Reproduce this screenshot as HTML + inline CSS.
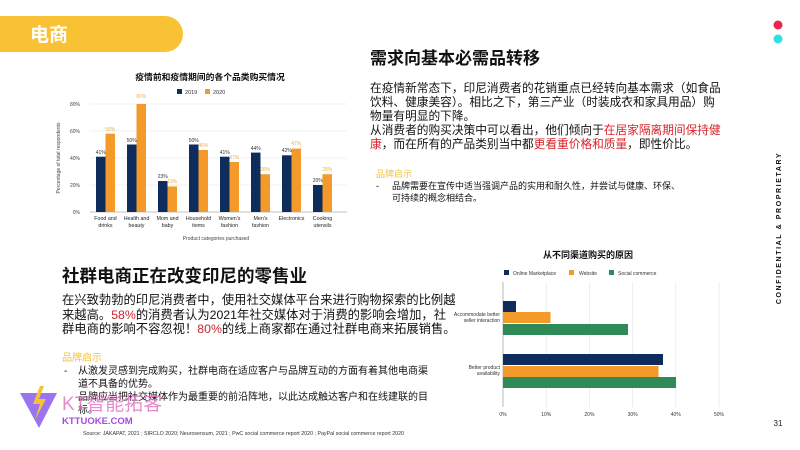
<!DOCTYPE html>
<html><head><meta charset="utf-8"><style>
html,body{margin:0;padding:0;background:#fff;}
svg{display:block;font-family:"Liberation Sans","Noto Sans CJK SC",sans-serif;}
</style></head><body>
<svg width="800" height="450" viewBox="0 0 800 450" xmlns="http://www.w3.org/2000/svg">
<!-- header -->
<path d="M0 16 H165 A18 18 0 0 1 165 52 H0 Z" fill="#f8c234"/>
<text x="30" y="41" font-size="19" font-weight="bold" fill="#fff">电商</text>
<!-- right side -->
<circle cx="778" cy="25" r="4.5" fill="#e8264f"/>
<circle cx="778" cy="39" r="4.5" fill="#2fe0e3"/>
<text transform="translate(781,228) rotate(-90)" text-anchor="middle" font-size="7" font-weight="bold" letter-spacing="1.6" fill="#111">CONFIDENTIAL &amp; PROPRIETARY</text>
<text x="778" y="426" text-anchor="middle" font-size="8" fill="#222">31</text>

<!-- left chart -->
<text x="210" y="80" text-anchor="middle" font-size="8.8" font-weight="bold" fill="#111">疫情前和疫情期间的各个品类购买情况</text>
<rect x="177" y="89" width="5" height="5" fill="#0f2d5c"/><text x="185" y="94" font-size="5.5" fill="#333">2019</text>
<rect x="205" y="89" width="5" height="5" fill="#f39a2b"/><text x="213" y="94" font-size="5.5" fill="#333">2020</text>
<g stroke="#e6e6e6" stroke-width="0.6">
<line x1="90" y1="104" x2="347" y2="104"/><line x1="90" y1="131" x2="347" y2="131"/><line x1="90" y1="158" x2="347" y2="158"/><line x1="90" y1="185" x2="347" y2="185"/>
</g>
<line x1="90" y1="212" x2="347" y2="212" stroke="#888" stroke-width="0.6"/>
<g font-size="5" fill="#444" text-anchor="end">
<text x="80" y="106">80%</text><text x="80" y="133">60%</text><text x="80" y="160">40%</text><text x="80" y="187">20%</text><text x="80" y="214">0%</text>
</g>
<text transform="translate(60,158) rotate(-90)" text-anchor="middle" font-size="5" fill="#444">Percentage of total respondents</text>
<g>
<rect x="96" y="156.7" width="9.5" height="55.3" fill="#0f2d5c"/><rect x="105.5" y="133.7" width="9.5" height="78.3" fill="#f39a2b"/>
<rect x="127" y="144.5" width="9.5" height="67.5" fill="#0f2d5c"/><rect x="136.5" y="104" width="9.5" height="108" fill="#f39a2b"/>
<rect x="158" y="181" width="9.5" height="31" fill="#0f2d5c"/><rect x="167.5" y="186.4" width="9.5" height="25.6" fill="#f39a2b"/>
<rect x="189" y="144.5" width="9.5" height="67.5" fill="#0f2d5c"/><rect x="198.5" y="150" width="9.5" height="62" fill="#f39a2b"/>
<rect x="220" y="156.7" width="9.5" height="55.3" fill="#0f2d5c"/><rect x="229.5" y="162" width="9.5" height="50" fill="#f39a2b"/>
<rect x="251" y="152.6" width="9.5" height="59.4" fill="#0f2d5c"/><rect x="260.5" y="174.2" width="9.5" height="37.8" fill="#f39a2b"/>
<rect x="282" y="155.3" width="9.5" height="56.7" fill="#0f2d5c"/><rect x="291.5" y="148.6" width="9.5" height="63.4" fill="#f39a2b"/>
<rect x="313" y="185" width="9.5" height="27" fill="#0f2d5c"/><rect x="322.5" y="174.2" width="9.5" height="37.8" fill="#f39a2b"/>
</g>
<g font-size="5" text-anchor="middle">
<g fill="#333">
<text x="100.7" y="154">41%</text><text x="131.7" y="142">50%</text><text x="162.7" y="178">23%</text><text x="193.7" y="142">50%</text><text x="224.7" y="154">41%</text><text x="255.7" y="150">44%</text><text x="286.7" y="152">42%</text><text x="317.7" y="182">20%</text>
</g>
<g fill="#f0b04e">
<text x="110.2" y="131">58%</text><text x="141.2" y="98">80%</text><text x="172.2" y="183">19%</text><text x="203.2" y="147">46%</text><text x="234.2" y="159">37%</text><text x="265.2" y="171">28%</text><text x="296.2" y="145">47%</text><text x="327.2" y="171">28%</text>
</g>
<g fill="#222" font-size="5.3">
<text x="105.5" y="220">Food and</text><text x="105.5" y="227">drinks</text>
<text x="136.5" y="220">Health and</text><text x="136.5" y="227">beauty</text>
<text x="167.5" y="220">Mom and</text><text x="167.5" y="227">baby</text>
<text x="198.5" y="220">Household</text><text x="198.5" y="227">items</text>
<text x="229.5" y="220">Women's</text><text x="229.5" y="227">fashion</text>
<text x="260.5" y="220">Men's</text><text x="260.5" y="227">fashion</text>
<text x="291.5" y="220">Electronics</text>
<text x="322.5" y="220">Cooking</text><text x="322.5" y="227">utensils</text>
</g>
<text x="216" y="240" fill="#444">Product categories purchased</text>
</g>

<!-- right text -->
<text x="370" y="64" font-size="17" font-weight="bold" fill="#111">需求向基本必需品转移</text>
<g font-size="11.7" fill="#111">
<text x="370" y="92">在疫情新常态下，印尼消费者的花销重点已经转向基本需求（如食品</text>
<text x="370" y="106">饮料、健康美容）。相比之下，第三产业（时装成衣和家具用品）购</text>
<text x="370" y="120">物量有明显的下降。</text>
<text x="370" y="134">从消费者的购买决策中可以看出，他们倾向于<tspan fill="#d8232a">在居家隔离期间保持健</tspan></text>
<text x="370" y="148"><tspan fill="#d8232a">康</tspan>，而在所有的产品类别当中都<tspan fill="#d8232a">更看重价格和质量</tspan>，即性价比。</text>
</g>
<text x="376" y="177" font-size="9" fill="#f3c33a">品牌启示</text>
<g font-size="9" fill="#111">
<text x="376" y="189">-</text>
<text x="392" y="189">品牌需要在宣传中适当强调产品的实用和耐久性，并尝试与健康、环保、</text>
<text x="392" y="201">可持续的概念相结合。</text>
</g>

<!-- left bottom text -->
<text x="62" y="282" font-size="17.5" font-weight="bold" fill="#111">社群电商正在改变印尼的零售业</text>
<g font-size="12.3" fill="#111">
<text x="62" y="304">在兴致勃勃的印尼消费者中，使用社交媒体平台来进行购物探索的比例越</text>
<text x="62" y="319">来越高。<tspan fill="#c9252c">58%</tspan>的消费者认为2021年社交媒体对于消费的影响会增加，社</text>
<text x="62" y="333">群电商的影响不容忽视！<tspan fill="#c9252c">80%</tspan>的线上商家都在通过社群电商来拓展销售。</text>
</g>
<text x="62" y="361" font-size="10" fill="#f3c33a">品牌启示</text>
<g font-size="10" fill="#111">
<text x="64" y="374">-</text>
<text x="78" y="374">从激发灵感到完成购买，社群电商在适应客户与品牌互动的方面有着其他电商渠</text>
<text x="78" y="387">道不具备的优势。</text>
<text x="78" y="400">品牌应当把社交媒体作为最重要的前沿阵地，以此达成触达客户和在线建联的目</text>
<text x="78" y="413">标。</text>
</g>
<text x="83" y="435" font-size="5.3" fill="#333">Source: JAKAPAT, 2021 ; SIRCLO 2020; Neurosensum, 2021 ; PwC social commerce report 2020 ; PayPal social commerce report 2020</text>
<!-- watermark -->
<path d="M20 393 L57 393 L39 428 Z" fill="#8a5cf0" opacity="0.85"/>
<path d="M40 386 L33 404 L40 404 L35 420 L46 399 L39 399 L44 386 Z" fill="#f8c234"/>
<text x="62" y="410" font-size="19" fill="#e36fbe" opacity="0.8">KT智能拓客</text>
<text x="62" y="424" font-size="9.5" font-weight="bold" fill="#a64be0">KTTUOKE.COM</text>

<!-- right chart -->
<text x="588" y="258" text-anchor="middle" font-size="9" font-weight="bold" fill="#111">从不同渠道购买的原因</text>
<rect x="504" y="270" width="5" height="5" fill="#0f2d5c"/><text x="513" y="275" font-size="5" fill="#333">Online Marketplace</text>
<rect x="569" y="270" width="5" height="5" fill="#f39a2b"/><text x="579" y="275" font-size="5" fill="#333">Website</text>
<rect x="609" y="270" width="5" height="5" fill="#2e8b57"/><text x="618" y="275" font-size="5" fill="#333">Social commerce</text>
<g stroke="#e3e3e3" stroke-width="0.6">
<line x1="546.2" y1="282" x2="546.2" y2="407"/><line x1="589.4" y1="282" x2="589.4" y2="407"/><line x1="632.6" y1="282" x2="632.6" y2="407"/><line x1="675.8" y1="282" x2="675.8" y2="407"/><line x1="719" y1="282" x2="719" y2="407"/>
</g>
<line x1="503" y1="282" x2="503" y2="407" stroke="#888" stroke-width="0.6"/>
<rect x="503" y="301" width="13" height="11" fill="#0f2d5c"/>
<rect x="503" y="312" width="47.5" height="11" fill="#f39a2b"/>
<rect x="503" y="324" width="125" height="11" fill="#2e8b57"/>
<rect x="503" y="354" width="160" height="11" fill="#0f2d5c"/>
<rect x="503" y="366" width="155.5" height="11" fill="#f39a2b"/>
<rect x="503" y="377" width="173" height="11" fill="#2e8b57"/>
<g font-size="5" fill="#333" text-anchor="end">
<text x="500" y="316">Accommodate better</text><text x="500" y="322">seller interaction</text>
<text x="500" y="369">Better product</text><text x="500" y="375">availability</text>
</g>
<g font-size="5" fill="#333" text-anchor="middle">
<text x="503" y="416">0%</text><text x="546.2" y="416">10%</text><text x="589.4" y="416">20%</text><text x="632.6" y="416">30%</text><text x="675.8" y="416">40%</text><text x="719" y="416">50%</text>
</g>
</svg>
</body></html>
